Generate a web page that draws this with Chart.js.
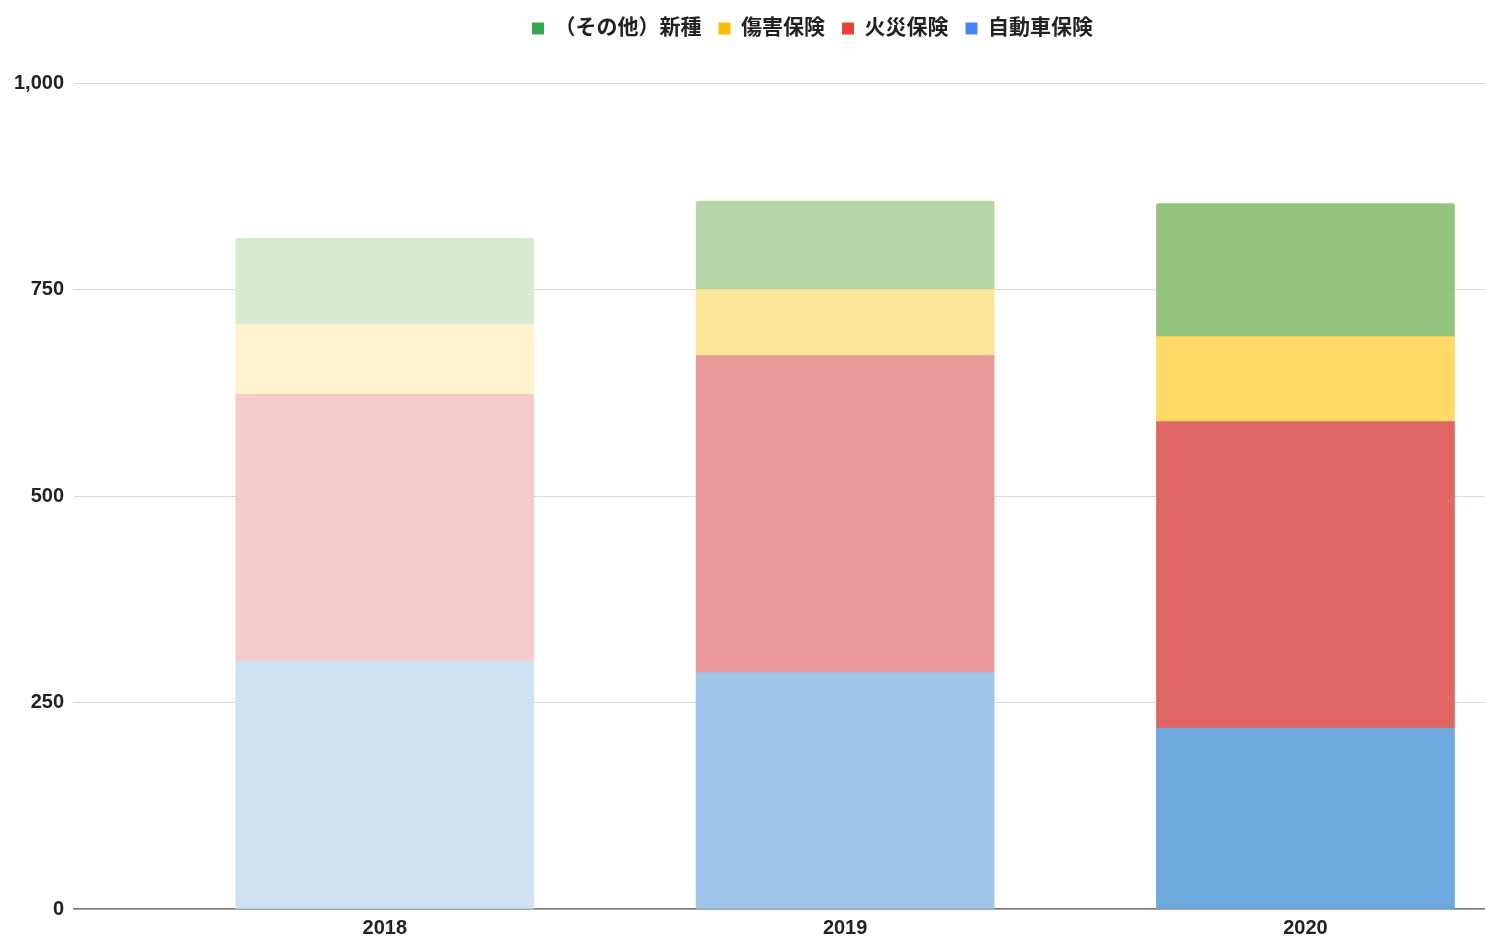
<!DOCTYPE html>
<html>
<head>
<meta charset="utf-8">
<script src="https://cdn.jsdelivr.net/npm/chart.js@4"></script>
<style>
  html, body { margin: 0; padding: 0; background: #fff; }
  #wrap { width: 1485px; height: 938px; }
</style>
</head>
<body>
<div id="wrap"><canvas id="c"></canvas></div>
<script>
const years = [2018, 2019, 2020]

const seriesNames = ['自動車保険', '火災保険', '傷害保険', '（その他）新種']
const auto = [300, 286, 219]
const fire = [323, 384, 371]
const injury = [85, 80, 103]
const other = [104, 107, 161]

const legendColors = ['#4285f4', '#ea4335', '#fbbc04', '#34a853']
// each year gets a lighter shade, like the sheet
const barColors = [
  ['#cfe2f3', '#9fc5e8', '#6fa8dc'],
  ['#f4cccc', '#ea9999', '#e06666'],
  ['#fff2cc', '#ffe599', '#ffd966'],
  ['#d9ead3', '#b6d7a8', '#93c47d'],
]

const yTicks = [0, 250, 500, 750, 1000]

const values = [auto, fire, injury, other]
const FONT = 'Arial, "Liberation Sans", "Noto Sans CJK JP", sans-serif'

const datasets = values.map((vals, i) => ({
  label: seriesNames[i],
  data: vals.map((v, j) => ({ x: years[j], y: v })),
  backgroundColor: barColors[i],
  borderWidth: 0,
  borderRadius: i === 3 ? { topLeft: 2, topRight: 2 } : 0,
  borderSkipped: false,
  barThickness: 298,
}))

// extra room under the legend, and nudge it right like the sheet does
const legendGap = {
  id: 'legendGap',
  beforeInit(chart) {
    const fit = chart.legend.fit
    chart.legend.fit = function () {
      fit.bind(chart.legend)()
      this.height += 34
    }
  },
  afterLayout(chart) {
    chart.legend.left += 136
  },
}

new Chart(document.getElementById('c'), {
  type: 'bar',
  data: { datasets },
  plugins: [legendGap],
  options: {
    responsive: true,
    maintainAspectRatio: false,
    animation: false,
    layout: { padding: { left: 4, right: 0, top: 1, bottom: -9 } },
    plugins: {
      tooltip: { enabled: false },
      legend: {
        position: 'top',
        reverse: true,
        labels: {
          font: { family: FONT, size: 21, weight: 'bold' },
          color: '#222',
          boxWidth: 12,
          boxHeight: 12,
          padding: 17,
          generateLabels: (chart) =>
            chart.data.datasets.map((ds, i) => ({
              text: ds.label,
              fillStyle: legendColors[i],
              strokeStyle: legendColors[i],
              lineWidth: 0,
              datasetIndex: i,
              fontColor: '#222',
            })),
        },
      },
    },
    scales: {
      x: {
        type: 'linear',
        stacked: true,
        offset: false,
        min: 2017.325,
        max: 2020.39,
        afterBuildTicks: (scale) => {
          scale.ticks = years.map((v) => ({ value: v }))
        },
        ticks: {
          callback: (v) => String(v),
          font: { family: FONT, size: 20, weight: 'bold', lineHeight: 1 },
          color: '#222',
          padding: 9,
          maxRotation: 0,
        },
        grid: { display: false, drawTicks: false, offset: false },
        border: { display: true, color: '#777', width: 1.5 },
      },
      y: {
        stacked: true,
        min: 0,
        max: 1000,
        afterBuildTicks: (scale) => {
          scale.ticks = yTicks.map((v) => ({ value: v }))
        },
        ticks: {
          callback: (v) => v.toLocaleString('en-US'),
          font: { family: FONT, size: 20, weight: 'bold' },
          color: '#222',
          padding: 10,
        },
        grid: { color: '#d9d9d9', lineWidth: 1, drawTicks: false },
        border: { display: false },
      },
    },
  },
})
</script>
</body>
</html>
